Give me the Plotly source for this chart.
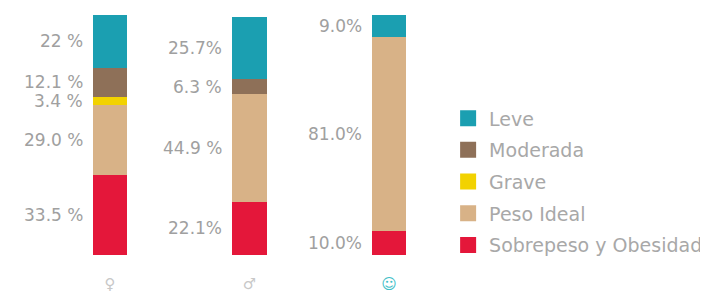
import plotly.graph_objects as go

groups = ["♀", "♂", "☺"]
tick_colors = ["#c8c8c8", "#c8c8c8", "#3fc0c8"]
series_names = ["Sobrepeso y Obesidad", "Peso Ideal", "Grave", "Moderada", "Leve"]
colors = ["#e4173a", "#d8b287", "#f2d200", "#8e7058", "#1b9fb1"]
sobrepeso = [33.5, 22.1, 10.0]
peso_ideal = [29.0, 44.9, 81.0]
grave = [3.4, 0, 0]
moderada = [12.1, 6.3, 0]
leve = [22.0, 25.7, 9.0]
labels = {
    "Sobrepeso y Obesidad": ["33.5 %", "22.1%", "10.0%"],
    "Peso Ideal": ["29.0 %", "44.9 %", "81.0%"],
    "Grave": ["3.4 %", None, None],
    "Moderada": ["12.1 %", "6.3 %", None],
    "Leve": ["22 %", "25.7%", "9.0%"],
}
values = [sobrepeso, peso_ideal, grave, moderada, leve]

fig = go.Figure()
xs = [0, 1, 2]
for name, vals, col in zip(series_names, values, colors):
    fig.add_trace(go.Bar(x=xs, y=vals, name=name, marker=dict(color=col, line=dict(width=0)),
                         width=0.25, showlegend=False, hoverinfo="skip"))

# legend entries (top to bottom)
for name, col in reversed(list(zip(series_names, colors))):
    fig.add_trace(go.Scatter(x=[None], y=[None], mode="markers", name=name, legendgroup=name,
                             marker=dict(symbol="square", size=16, color=col)))

annotations = []
for i in range(3):
    base = 0
    for name, vals in zip(series_names, values):
        v = vals[i]
        txt = labels[name][i]
        if v > 0 and txt:
            annotations.append(dict(x=i, y=base + v / 2, xref="x", yref="y", text=txt,
                                    showarrow=False, xanchor="right", yanchor="middle",
                                    xshift=-25, font=dict(family="DejaVu Sans", size=17, color="#a0a0a0")))
        base += v

fig.update_layout(
    width=708, height=297,
    margin=dict(l=0, r=268, t=7, b=50),
    paper_bgcolor="white", plot_bgcolor="white",
    barmode="stack", bargap=0,
    annotations=annotations,
    xaxis=dict(range=[-0.731, 2.423], tickvals=xs,
               ticktext=[f"<span style='color:{c}'>{g}</span>" for g, c in zip(groups, tick_colors)],
               showgrid=False, zeroline=False, showline=False,
               ticks="outside", ticklen=15, tickcolor="rgba(0,0,0,0)",
               tickfont=dict(family="DejaVu Sans", size=15, color="#c8c8c8")),
    yaxis=dict(range=[0, 100], visible=False),
    legend=dict(x=0.998, xanchor="left", y=0.305, yanchor="middle",
                traceorder="grouped", tracegroupgap=4,
                font=dict(family="DejaVu Sans", size=19, color="#a8a8a8"),
                itemwidth=32),
    showlegend=True,
)
fig.write_html("out.html")
